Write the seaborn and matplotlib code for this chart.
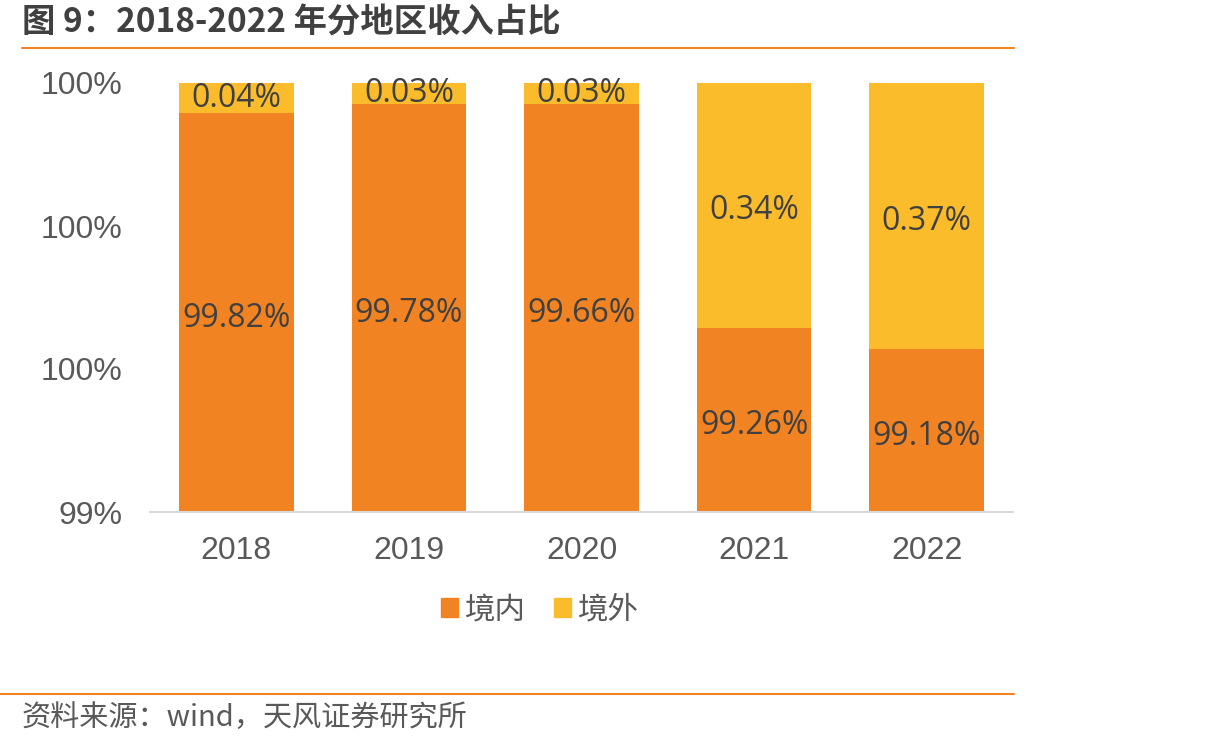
import matplotlib
matplotlib.use('Agg')
import matplotlib.pyplot as plt
import matplotlib.transforms as mtransforms
import seaborn as sns
import pandas as pd
from matplotlib.patches import Patch
from matplotlib.lines import Line2D

sns.set_style('white')
plt.rcParams['font.family'] = ['Noto Sans CJK SC', 'DejaVu Sans']

# 数据
years = ['2018', '2019', '2020', '2021', '2022']
domestic = [99.93, 99.95, 99.95, 99.43, 99.38]   # 境内（按图中柱高读取）
overseas = [0.07, 0.05, 0.05, 0.57, 0.62]        # 境外
domestic_labels = ['99.82%', '99.78%', '99.66%', '99.26%', '99.18%']
overseas_labels = ['0.04%', '0.03%', '0.03%', '0.34%', '0.37%']
y_ticks = [99, 99 + 1 / 3, 99 + 2 / 3, 100]
y_ticklabels = ['99%', '100%', '100%', '100%']

c_dom = '#F28322'
c_ovs = '#FBBC2C'
grey = '#595959'

df = pd.DataFrame({'year': years, 'dom': domestic, 'ovs': overseas})
df['total'] = df['dom'] + df['ovs']

fig = plt.figure(figsize=(12.14, 7.47), dpi=100)
ax = fig.add_axes([150 / 1214, 1 - 512 / 747, (1013 - 150) / 1214, (512 - 83) / 747])

# 堆积柱：先画总高（境外），再画境内
sns.barplot(data=df, x='year', y='total', color=c_ovs, width=0.665,
            saturation=1, ax=ax, linewidth=0)
sns.barplot(data=df, x='year', y='dom', color=c_dom, width=0.665,
            saturation=1, ax=ax, linewidth=0)

ax.set_ylim(99, 100)
ax.set_xlim(-0.5, 4.5)
ax.set_yticks(y_ticks)
ax.set_yticklabels(y_ticklabels)
ax.set_xlabel('')
ax.set_ylabel('')
for s in ['top', 'right', 'left']:
    ax.spines[s].set_visible(False)
ax.spines['bottom'].set_color('#D9D9D9')
ax.spines['bottom'].set_linewidth(1.5)
ax.tick_params(axis='both', length=0, labelsize=23, labelcolor=grey)
ax.tick_params(axis='y', pad=20)
ax.tick_params(axis='x', pad=17)
for lab in ax.get_xticklabels() + ax.get_yticklabels():
    lab.set_family(['Liberation Sans', 'DejaVu Sans'])

# 数值标签（略微下移，与原图一致）
lab_font = ['Open Sans', 'DejaVu Sans']
shift = mtransforms.offset_copy(ax.transData, fig=fig, x=0, y=-4, units='points')
for i in range(len(years)):
    ax.text(i, (99 + domestic[i]) / 2, domestic_labels[i], ha='center', va='center',
            fontsize=23, color='#404040', family=lab_font, transform=shift)
    top = min(domestic[i] + overseas[i], 100)
    ax.text(i, (domestic[i] + top) / 2, overseas_labels[i], ha='center', va='center',
            fontsize=23, color='#404040', family=lab_font,
            transform=shift if overseas[i] > 0.2 else ax.transData)

# 图例
handles = [Patch(color=c_dom, label='境内'), Patch(color=c_ovs, label='境外')]
fig.legend(handles=handles, loc='center', bbox_to_anchor=(540 / 1214, 1 - 610 / 747),
           ncol=2, frameon=False, fontsize=22, handlelength=0.55, handleheight=0.55,
           handletextpad=0.25, columnspacing=0.9, labelcolor=grey)

# 标题与来源
fig.text(22 / 1214, 1 - 23 / 747, '图 9：2018-2022 年分地区收入占比', fontsize=24,
         fontweight='bold', color='#404040', va='center', ha='left')
fig.add_artist(Line2D([22 / 1214, 1014 / 1214], [1 - 48 / 747, 1 - 48 / 747],
                      color='#F28322', lw=1.5))
fig.add_artist(Line2D([0, 1014 / 1214], [1 - 694 / 747, 1 - 694 / 747],
                      color='#F28322', lw=1.5))
fig.text(22 / 1214, 1 - 718 / 747, '资料来源：wind，天风证券研究所', fontsize=21,
         color=grey, va='center', ha='left')

fig.savefig('out.png', dpi=100)
